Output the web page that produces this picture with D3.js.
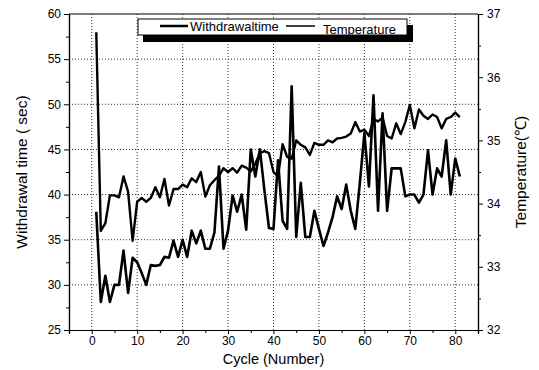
<!DOCTYPE html>
<html>
<head>
<meta charset="utf-8">
<script src="https://cdn.jsdelivr.net/npm/d3@7"></script>
<style>
  body { margin: 0; background: #fff; }
  text { font-family: "Liberation Sans", Arial, sans-serif; fill: #000; }
</style>
</head>
<body>
<div id="chart"></div>
<script>
const cycles = d3.range(1, 82);

// withdrawal time (sec), left axis
const withdrawalTime = [
  38.1, 28.1, 31, 28.1, 30, 30, 33.8, 29.1, 33, 32.5,
  31.3, 30, 32.2, 32.1, 32.2, 33.1, 33, 34.9, 33.1, 35,
  33.1, 36, 34.6, 36, 34, 34, 35.8, 43.1, 34, 36,
  39.9, 38.1, 40, 36.1, 45, 42, 45, 40.5, 36.3, 36.2,
  43.8, 37.1, 36.2, 52, 35.3, 41.3, 35.3, 35.3, 38.2, 36.2,
  34.3, 35.8, 37.5, 39.8, 38.4, 41.1, 38.2, 36.2, 41.3, 46.8,
  40.9, 51, 38.2, 49, 38.2, 42.9, 42.9, 42.9, 39.8, 40,
  40, 39.1, 40, 44.9, 40, 42.9, 42, 46, 40, 44,
  42
];

// temperature (C), right axis
const temperature = [
  36.71, 33.57, 33.69, 34.13, 34.13, 34.10, 34.43, 34.19, 33.41, 34.03,
  34.09, 34.03, 34.09, 34.26, 34.10, 34.39, 33.97, 34.23, 34.23, 34.30,
  34.26, 34.40, 34.34, 34.50, 34.11, 34.29, 34.37, 34.44, 34.56, 34.50,
  34.56, 34.49, 34.60, 34.57, 34.51, 34.63, 34.80, 34.83, 34.80, 34.50,
  34.43, 34.94, 34.74, 34.71, 35.00, 34.93, 34.89, 34.77, 34.96, 34.93,
  34.93, 35.00, 34.97, 35.03, 35.04, 35.06, 35.11, 35.29, 35.14, 35.17,
  35.07, 35.34, 35.30, 35.36, 35.07, 35.03, 35.27, 35.10, 35.29, 35.56,
  35.19, 35.49, 35.39, 35.34, 35.41, 35.37, 35.19, 35.34, 35.37, 35.44,
  35.37
];

const xTicks = [0, 10, 20, 30, 40, 50, 60, 70, 80];
const leftTicks = [25, 30, 35, 40, 45, 50, 55, 60];
const rightTicks = [32, 33, 34, 35, 36, 37];

const W = 539, H = 370;
const margin = { top: 14, right: 61, bottom: 40, left: 69 };
const width = W - margin.left - margin.right;
const height = H - margin.top - margin.bottom;

const svg = d3.select("#chart").append("svg")
    .attr("width", W)
    .attr("height", H);

const g = svg.append("g")
    .attr("transform", `translate(${margin.left},${margin.top})`);

const x = d3.scaleLinear().domain([-5, 85]).range([0, width]);
const yL = d3.scaleLinear().domain([25, 60]).range([height, 0]);
const yR = d3.scaleLinear().domain([32, 37]).range([height, 0]);

// dotted grid
g.append("g").selectAll("line")
    .data(xTicks)
    .join("line")
    .attr("x1", d => x(d)).attr("x2", d => x(d))
    .attr("y1", 0).attr("y2", height)
    .attr("stroke", "#333").attr("stroke-width", 1)
    .attr("stroke-dasharray", "1,2");

g.append("g").selectAll("line")
    .data(leftTicks.slice(1, -1))
    .join("line")
    .attr("x1", 0).attr("x2", width)
    .attr("y1", d => yL(d)).attr("y2", d => yL(d))
    .attr("stroke", "#333").attr("stroke-width", 1)
    .attr("stroke-dasharray", "1,2");

// axes
g.append("g")
    .attr("transform", `translate(0,${height})`)
    .call(d3.axisBottom(x).tickValues(xTicks).tickSize(4).tickPadding(2).tickFormat(d3.format("d")));
g.append("g")
    .attr("transform", `translate(0,${height})`)
    .call(d3.axisBottom(x).tickValues(d3.range(-5, 86, 10)).tickSize(3).tickFormat(""));

g.append("g")
    .call(d3.axisLeft(yL).tickValues(leftTicks).tickSize(5).tickPadding(3).tickFormat(d3.format("d")));
g.append("g")
    .call(d3.axisLeft(yL).tickValues(d3.range(27.5, 60, 5)).tickSize(3).tickFormat(""));

g.append("g")
    .attr("transform", `translate(${width},0)`)
    .call(d3.axisRight(yR).tickValues(rightTicks).tickSize(5).tickPadding(4).tickFormat(d3.format("d")));
g.append("g")
    .attr("transform", `translate(${width},0)`)
    .call(d3.axisRight(yR).tickValues(d3.range(32.5, 37, 1)).tickSize(3).tickFormat(""));

g.selectAll(".domain").attr("stroke", "#000").attr("stroke-width", 1.2);
g.selectAll(".tick line").attr("stroke", "#000");
g.selectAll(".tick text").style("font-size", "12px");

// top frame line
g.append("line")
    .attr("x1", 0).attr("x2", width)
    .attr("y1", 0).attr("y2", 0)
    .attr("stroke", "#000").attr("stroke-width", 1.2);

// series
const lineL = d3.line()
    .x((d, i) => x(cycles[i]))
    .y(d => yL(d));
const lineR = d3.line()
    .x((d, i) => x(cycles[i]))
    .y(d => yR(d));

g.append("path")
    .datum(temperature)
    .attr("fill", "none")
    .attr("stroke", "#000")
    .attr("stroke-width", 2.4)
    .attr("stroke-linejoin", "round")
    .attr("d", lineR);

g.append("path")
    .datum(withdrawalTime)
    .attr("fill", "none")
    .attr("stroke", "#000")
    .attr("stroke-width", 2.6)
    .attr("stroke-linejoin", "round")
    .attr("d", lineL);

// legend
const lg = svg.append("g");
lg.append("rect")
    .attr("x", 143).attr("y", 25)
    .attr("width", 270).attr("height", 17)
    .attr("fill", "#000");
lg.append("rect")
    .attr("x", 138).attr("y", 19)
    .attr("width", 269).attr("height", 16)
    .attr("fill", "#fff").attr("stroke", "#000").attr("stroke-width", 1);
lg.append("line")
    .attr("x1", 160).attr("x2", 188).attr("y1", 26).attr("y2", 26)
    .attr("stroke", "#000").attr("stroke-width", 2.5);
lg.append("text")
    .attr("x", 190).attr("y", 31)
    .style("font-size", "13px")
    .text("Withdrawaltime");
lg.append("line")
    .attr("x1", 286).attr("x2", 315).attr("y1", 26).attr("y2", 26)
    .attr("stroke", "#000").attr("stroke-width", 1.5);
lg.append("text")
    .attr("x", 323).attr("y", 34)
    .style("font-size", "13px")
    .text("Temperature");

// axis titles
svg.append("text")
    .attr("transform", `translate(27,${margin.top + height / 2}) rotate(-90)`)
    .attr("text-anchor", "middle")
    .style("font-size", "15.5px")
    .text("Withdrawal time ( sec)");

svg.append("text")
    .attr("transform", `translate(526,${margin.top + height / 2}) rotate(-90)`)
    .attr("text-anchor", "middle")
    .style("font-size", "15.5px")
    .text("Temperature(℃)");

svg.append("text")
    .attr("x", margin.left + x(40))
    .attr("y", 364)
    .attr("text-anchor", "middle")
    .style("font-size", "14.5px")
    .text("Cycle (Number)");
</script>
</body>
</html>
